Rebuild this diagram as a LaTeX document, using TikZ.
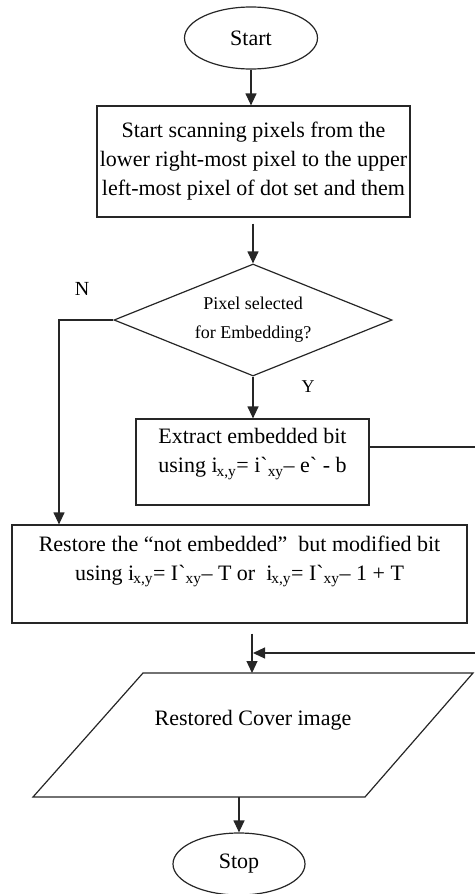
\documentclass[tikz,border=0pt]{standalone}
\usepackage{fontspec}
\setmainfont{Liberation Serif}
\usetikzlibrary{shapes.geometric,arrows.meta}
\newcommand{\gr}{\textasciigrave}
\begin{document}
\begin{tikzpicture}[x=1pt,y=1pt,
  every node/.style={font=\fontsize{22}{29}\selectfont},
  line/.style={draw=black!85, line width=1.2pt},
  arr/.style={line, -{Triangle[length=12pt,width=11pt]}},
  term/.style={ellipse, draw=black!85, line width=1.2pt, minimum width=133pt, minimum height=62pt, inner sep=0pt},
  boxshape/.style={rectangle, draw=black!85, line width=1.2pt, inner sep=0pt},
  decide/.style={diamond, draw=black!85, line width=1.2pt, minimum width=278pt, minimum height=112pt, inner sep=0pt, aspect=2.48},
  plain/.style={inner sep=0pt, align=center}]
\useasboundingbox (0,0) rectangle (474,-894);

% terminals and process boxes
\node[term] (start) at (251,-38) {Start};
\node[boxshape, minimum width=313pt, minimum height=111pt, align=center] (scan) at (253.5,-161.5)
  {Start scanning pixels from the\\ lower right-most pixel to the upper\\ left-most pixel of dot set and them};
\node[decide] (dec) at (253,-320) {};
\node[plain, font=\fontsize{18}{29}\selectfont] (dectext) at (253,-320) {Pixel selected\\ for Embedding?};
\node[boxshape, minimum width=233pt, minimum height=86pt] (extract) at (252.5,-462) {};
\node[plain] (extracttext) at (252.5,-454)
  {Extract embedded bit\\ using i\kern-1pt\textsubscript{x,y}= i\gr\textsubscript{xy}– e\gr\ - b};
\node[boxshape, minimum width=455pt, minimum height=98pt] (restore) at (239.5,-574) {};
\node[plain] (restoretext) at (239.5,-561)
  {Restore the “not embedded”\ \ but modified bit\\ using i\kern-1pt\textsubscript{x,y}= I\gr\textsubscript{xy}– T or\ \ i\kern-1pt\textsubscript{x,y}= I\gr\textsubscript{xy}– 1 + T};

% output parallelogram
\coordinate (ptl) at (143,-673);
\coordinate (ptr) at (473,-673);
\coordinate (pbr) at (365,-797);
\coordinate (pbl) at (33,-797);
\draw[line] (ptl) -- (ptr) -- (pbr) -- (pbl) -- cycle;
\node[plain] (cover) at (253,-720) {Restored Cover image};
\coordinate (pin) at (252,-673);
\coordinate (pout) at (239,-797);

\node[term, minimum width=132pt] (stop) at (239,-864) {Stop};

% branch labels
\node[plain, font=\fontsize{20}{24}\selectfont] (nlab) at (82,-289) {N};
\node[plain, font=\fontsize{18}{24}\selectfont] (ylab) at (308,-387) {Y};

% connectors
\draw[arr] (start.south) -- (start.south |- scan.north);
\draw[arr, shorten <=6pt] (scan.south -| dec.north) -- (dec.north);
\coordinate (nx) at (59,-320);
\draw[arr] (dec.west) -- (nx) -- (nx |- restore.north);
\draw[arr] (dec.south) -- (dec.south |- extract.north);
\coordinate (ex) at (extract.east |- 0,-447);
\coordinate (rc1) at (478,-447);
\coordinate (rc2) at (478,-653);
\coordinate (join) at (253,-653);
\draw[arr] (ex) -- (rc1) -- (rc2) -- (join);
\draw[arr, shorten <=10pt] (restore.south -| pin) -- (pin);
\draw[arr] (pout) -- (stop.north);
\end{tikzpicture}
\end{document}
